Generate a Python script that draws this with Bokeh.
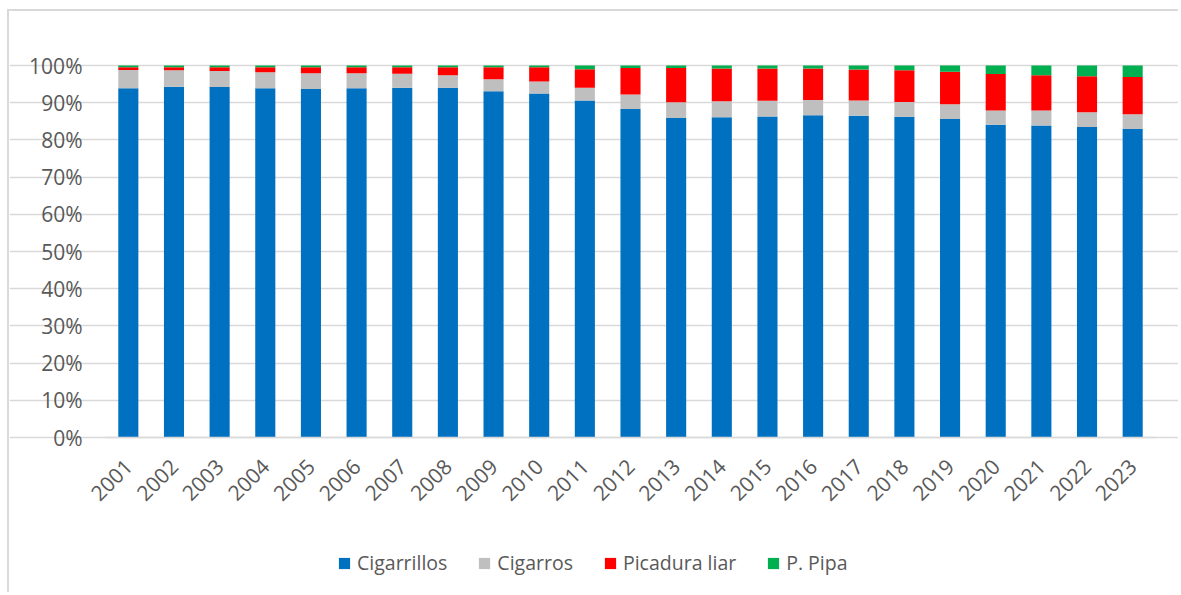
from bokeh.plotting import figure
from bokeh.models import (Legend, LegendItem, PrintfTickFormatter, FixedTicker,
                          Range1d, CustomJSTickFormatter, ColumnDataSource)
from bokeh.embed import file_html
from bokeh.resources import INLINE
import math

years = [str(y) for y in range(2001, 2024)]
cigarrillos = [93.9, 94.3, 94.2, 93.9, 93.7, 93.9, 94.0, 94.0, 93.1, 92.5, 90.6, 88.3,
               85.9, 86.1, 86.3, 86.6, 86.5, 86.2, 85.6, 84.1, 83.9, 83.5, 82.9]
cigarros = [4.9, 4.45, 4.3, 4.3, 4.2, 4.0, 3.8, 3.4, 3.2, 3.2, 3.4, 3.9,
            4.2, 4.3, 4.2, 4.1, 4.1, 4.0, 4.0, 3.8, 4.0, 3.9, 4.0]
picadura = [0.7, 0.75, 1.0, 1.3, 1.6, 1.6, 1.7, 2.1, 3.2, 3.8, 5.0, 7.1,
            9.2, 8.8, 8.7, 8.5, 8.3, 8.55, 8.7, 9.8, 9.5, 9.7, 10.0]
pipa = [0.5, 0.5, 0.5, 0.5, 0.5, 0.5, 0.5, 0.5, 0.5, 0.5, 1.0, 0.7,
        0.7, 0.8, 0.8, 0.8, 1.1, 1.25, 1.7, 2.3, 2.6, 2.9, 3.1]
series = ["Cigarrillos", "Cigarros", "Picadura liar", "P. Pipa"]
colors = ["#0070C0", "#BFBFBF", "#FF0000", "#00B050"]
y_ticks = [0, 10, 20, 30, 40, 50, 60, 70, 80, 90, 100]

n = len(years)
pos = [i + 0.5 for i in range(n)]           # category slot centers
data = ColumnDataSource({"pos": pos, "years": years, "Cigarrillos": cigarrillos,
                         "Cigarros": cigarros, "Picadura liar": picadura, "P. Pipa": pipa})

FONT = "Open Sans"
TXT = "#595959"

# ---- layout (page pixels) ----
W, H = 1171, 583                 # figure size
OX, OY = 9, 11                   # content origin on the page (after margin + border)
PLOT_L, PLOT_R = 105, 1155       # bar area left/right
PLOT_T, PLOT_B = 65, 437         # 100% / 0% lines
ux = (PLOT_R - PLOT_L) / n
uy = (PLOT_B - PLOT_T) / 100.0
x_start = -(PLOT_L - OX) / ux
x_end = n + (OX + W - PLOT_R) / ux
y_end = 100 + (PLOT_T - OY) / uy
y_start = -(OY + H - PLOT_B) / uy

p = figure(x_range=Range1d(x_start, x_end), y_range=Range1d(y_start, y_end),
           width=W, height=H, output_backend="svg", toolbar_location=None,
           min_border_left=0, min_border_right=0, min_border_top=0, min_border_bottom=0,
           styles={"margin-left": "7px", "margin-top": "9px",
                   "border-left": "2px solid #d9d9d9", "border-top": "2px solid #d9d9d9"})

renderers = p.vbar_stack(series, x="pos", width=0.44, color=colors, line_color=None, source=data)

p.outline_line_color = None
p.xgrid.grid_line_color = None
p.ygrid.ticker = FixedTicker(ticks=y_ticks)
p.ygrid.bounds = (0, n)
p.ygrid.grid_line_color = "#d9d9d9"
p.ygrid.grid_line_width = 1.5

p.yaxis.fixed_location = 0
p.yaxis.bounds = (0, 100)
p.yaxis.ticker = FixedTicker(ticks=y_ticks)
p.yaxis.formatter = PrintfTickFormatter(format="%d%%")
p.yaxis.axis_line_color = None
p.yaxis.major_tick_line_color = None
p.yaxis.minor_tick_line_color = None
p.yaxis.major_tick_out = 0
p.yaxis.major_label_standoff = 23
p.yaxis.major_label_text_font = FONT
p.yaxis.major_label_text_font_size = "21px"
p.yaxis.major_label_text_color = TXT

p.xaxis.fixed_location = 0
p.xaxis.bounds = (0, n)
p.xaxis.ticker = FixedTicker(ticks=pos)
p.xaxis.formatter = CustomJSTickFormatter(args=dict(years=years),
                                          code="return years[Math.floor(tick)];")
p.xaxis.axis_line_color = "#d9d9d9"
p.xaxis.axis_line_width = 1.5
p.xaxis.major_tick_line_color = None
p.xaxis.minor_tick_line_color = None
p.xaxis.major_tick_out = 0
p.xaxis.major_label_standoff = 25
p.xaxis.major_label_orientation = math.pi / 4
p.xaxis.major_label_text_font = FONT
p.xaxis.major_label_text_font_size = "21px"
p.xaxis.major_label_text_color = TXT

legend = Legend(items=[LegendItem(label=s, renderers=[r]) for s, r in zip(series, renderers)],
                orientation="horizontal", location=(337 - OX, OY + H - 576),
                glyph_width=14, glyph_height=14, label_standoff=6, spacing=30,
                padding=0, margin=0, border_line_color=None, background_fill_alpha=0,
                label_text_font=FONT, label_text_font_size="19.5px", label_text_color=TXT,
                label_height=14)
p.add_layout(legend, "center")

open("out.html", "w").write(file_html(p, INLINE))
